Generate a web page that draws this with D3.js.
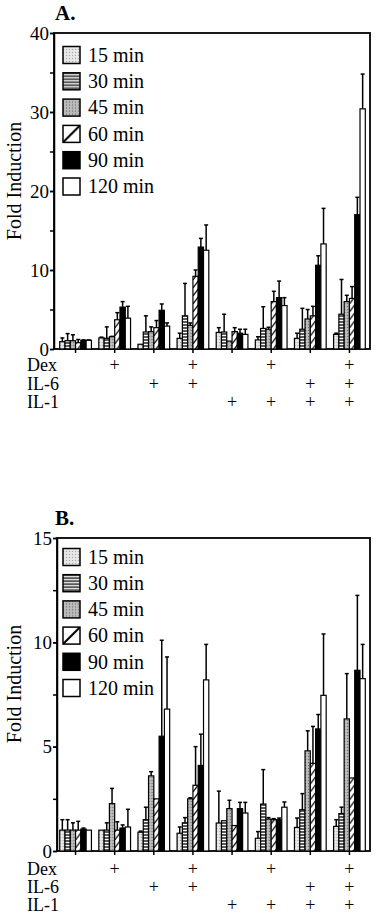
<!DOCTYPE html>
<meta charset="utf-8">
<style>
body { margin: 0; background: #fff; }
svg text { font-family: "Liberation Serif", "Times New Roman", serif; fill: #000; }
.axis text { font-size: 19px; }
.axis path, .axis line { stroke: #000; stroke-width: 1.5; }
.bar { stroke: #000; stroke-width: 1.2; }
.err { stroke: #000; stroke-width: 1.5; }
</style>
<svg class="chart" width="378" height="915"></svg>
<script src="https://d3js.org/d3.v7.min.js"></script>
<script>

// categories
var groups = ["g1", "g2", "g3", "g4", "g5", "g6", "g7", "g8"];
var series = ["15 min", "30 min", "45 min", "60 min", "90 min", "120 min"];
var dex = ["", "+", "", "+", "", "+", "", "+"];
var il6 = ["", "", "+", "+", "", "", "+", "+"];
var il1 = ["", "", "", "", "+", "+", "+", "+"];

// tick labels
var ticksA = [0, 10, 20, 30, 40];
var ticksB = [0, 5, 10, 15];

// panel A: mean fold induction, one row per series (15..120 min)
var meansA = [
  [0.93, 1.4, 0.6, 1.35, 2.1, 1.15, 1.35, 1.85],
  [1.05, 1.35, 2.15, 4.2, 2.15, 2.6, 2.5, 4.4],
  [1.05, 1.55, 2.2, 3.0, 1.0, 2.5, 3.8, 6.0],
  [0.8, 3.7, 2.7, 9.2, 2.2, 6.0, 4.2, 6.4],
  [1.1, 5.3, 4.9, 12.9, 2.0, 6.5, 10.6, 17.0],
  [1.1, 3.9, 2.9, 12.5, 1.85, 5.5, 13.3, 30.4]
];
// panel A: top of error bar
var errTopA = [
  [1.4, 1.5, 0.6, 2.0, 2.7, 1.55, 2.0, 2.0],
  [1.95, 2.8, 4.2, 8.3, 4.4, 5.35, 5.15, 8.8],
  [1.8, 1.6, 2.8, 3.3, 1.0, 2.75, 5.0, 6.8],
  [1.2, 4.6, 3.6, 10.0, 2.7, 7.3, 5.4, 7.9],
  [1.15, 6.0, 5.7, 14.0, 2.5, 8.6, 11.8, 19.2],
  [1.15, 5.4, 3.3, 15.7, 2.5, 6.5, 17.8, 34.8]
];

// panel B
var meansB = [
  [1.0, 1.0, 0.9, 0.85, 1.34, 0.61, 1.13, 1.18],
  [1.0, 1.0, 1.5, 1.35, 1.45, 2.25, 1.98, 1.79],
  [1.0, 2.27, 3.6, 2.5, 2.03, 1.53, 4.8, 6.33],
  [1.0, 1.0, 2.5, 3.15, 1.22, 1.5, 4.2, 3.5],
  [1.05, 1.1, 5.5, 4.1, 2.03, 1.5, 5.85, 8.66],
  [1.0, 1.15, 6.8, 8.2, 1.82, 2.1, 7.46, 8.26]
];
var errTopB = [
  [1.5, 1.0, 0.95, 1.15, 2.87, 0.93, 1.58, 1.5],
  [1.5, 1.35, 2.1, 1.6, 1.45, 3.9, 2.75, 2.1],
  [1.35, 3.0, 3.8, 2.55, 2.43, 1.6, 5.76, 8.5],
  [1.42, 1.4, 2.5, 5.0, 1.22, 1.55, 5.97, 3.5],
  [1.1, 1.25, 10.1, 5.6, 2.33, 1.58, 6.54, 12.25],
  [1.0, 2.0, 9.3, 9.9, 2.33, 2.35, 10.4, 9.9]
];

var svg = d3.select(".chart");

// fill patterns
var defs = svg.append("defs");

var p15 = defs.append("pattern").attr("id", "p15")
    .attr("patternUnits", "userSpaceOnUse").attr("width", 3).attr("height", 3);
p15.append("rect").attr("width", 3).attr("height", 3).attr("fill", "#e2e2e2");
p15.append("rect").attr("width", 1).attr("height", 1).attr("fill", "#a8a8a8");
p15.append("rect").attr("x", 1.5).attr("y", 1.5).attr("width", 1).attr("height", 1).attr("fill", "#fff");

var p30 = defs.append("pattern").attr("id", "p30")
    .attr("patternUnits", "userSpaceOnUse").attr("width", 6).attr("height", 3);
p30.append("rect").attr("width", 6).attr("height", 3).attr("fill", "#fff");
p30.append("line").attr("x1", 0).attr("x2", 6).attr("y1", 1).attr("y2", 1)
    .attr("stroke", "#000").attr("stroke-width", 1.3);

var p45 = defs.append("pattern").attr("id", "p45")
    .attr("patternUnits", "userSpaceOnUse").attr("width", 3).attr("height", 3);
p45.append("rect").attr("width", 3).attr("height", 3).attr("fill", "#b4b4b4");
p45.append("rect").attr("width", 1).attr("height", 1).attr("fill", "#6e6e6e");
p45.append("rect").attr("x", 1.5).attr("y", 1.5).attr("width", 1).attr("height", 1).attr("fill", "#d8d8d8");

var p60 = defs.append("pattern").attr("id", "p60")
    .attr("patternUnits", "userSpaceOnUse").attr("width", 6).attr("height", 8);
p60.append("rect").attr("width", 6).attr("height", 8).attr("fill", "#fff");
p60.append("line").attr("x1", -1).attr("y1", 9.3).attr("x2", 7).attr("y2", -1.3)
    .attr("stroke", "#000").attr("stroke-width", 1.3);

var p60big = defs.append("pattern").attr("id", "p60big")
    .attr("patternUnits", "objectBoundingBox").attr("width", 1).attr("height", 1)
    .attr("patternContentUnits", "objectBoundingBox");
p60big.append("rect").attr("width", 1).attr("height", 1).attr("fill", "#fff");
p60big.append("line").attr("x1", 0).attr("y1", 1).attr("x2", 1).attr("y2", 0)
    .attr("stroke", "#000").attr("stroke-width", 0.12);

var fills = ["url(#p15)", "url(#p30)", "url(#p45)", "url(#p60)", "#000", "#fff"];
var legendFills = ["url(#p15)", "url(#p30)", "url(#p45)", "url(#p60big)", "#000", "#fff"];

function drawPanel(opt) {
  var x0 = d3.scaleBand().domain(groups).range([56, 369]).padding(0);
  var x1 = d3.scaleBand().domain(series).range([0, x0.bandwidth()])
      .paddingInner(0).paddingOuter(0.7);
  var y = d3.scaleLinear().domain([0, opt.max]).range([opt.bottom, opt.top]);

  var g = svg.append("g");

  // frame
  g.append("rect")
      .attr("x", opt.left).attr("y", opt.top)
      .attr("width", 370 - opt.left).attr("height", opt.bottom - opt.top)
      .attr("fill", "none").attr("stroke", "#000").attr("stroke-width", 1.8);

  // panel letter
  g.append("text")
      .attr("x", 55).attr("y", opt.top - opt.letterGap)
      .style("font-size", "21px").style("font-weight", "bold")
      .text(opt.letter);

  // y axis: minor ticks then labelled ticks
  g.append("g").attr("class", "axis")
      .attr("transform", "translate(" + opt.left + ",0)")
      .call(d3.axisLeft(y).tickValues(d3.range(0, opt.max + 0.01, opt.minor))
          .tickSize(4).tickSizeOuter(0).tickFormat(""));
  g.append("g").attr("class", "axis")
      .attr("transform", "translate(" + opt.left + ",0)")
      .call(d3.axisLeft(y).tickValues(opt.ticks).tickSize(4).tickSizeOuter(0).tickPadding(1))
      .call(function (a) { a.select(".domain").remove(); });

  // x axis ticks at group centres
  g.append("g").attr("class", "axis")
      .attr("transform", "translate(0," + opt.bottom + ")")
      .call(d3.axisBottom(x0).tickSize(4).tickSizeOuter(0).tickFormat(""))
      .call(function (a) { a.select(".domain").remove(); });

  g.append("text")
      .attr("transform", "translate(21," + opt.labelY + ") rotate(-90)")
      .attr("text-anchor", "middle")
      .style("font-size", "20px")
      .text("Fold Induction");

  // bars
  var rows = [];
  groups.forEach(function (gr, gi) {
    series.forEach(function (s, si) {
      rows.push({ group: gr, series: s, si: si, v: opt.means[si][gi], e: opt.errTop[si][gi] });
    });
  });

  var bar = g.selectAll(".b").data(rows).enter().append("g")
      .attr("transform", function (d) { return "translate(" + (x0(d.group) + x1(d.series)) + ",0)"; });

  bar.filter(function (d) { return d.e > d.v; }).append("line")
      .attr("class", "err")
      .attr("x1", x1.bandwidth() / 2).attr("x2", x1.bandwidth() / 2)
      .attr("y1", function (d) { return y(d.v); })
      .attr("y2", function (d) { return y(d.e); });
  bar.filter(function (d) { return d.e > d.v; }).append("line")
      .attr("class", "err")
      .attr("x1", x1.bandwidth() / 2 - 2).attr("x2", x1.bandwidth() / 2 + 2)
      .attr("y1", function (d) { return y(d.e); })
      .attr("y2", function (d) { return y(d.e); });

  bar.append("rect")
      .attr("class", "bar")
      .attr("y", function (d) { return y(d.v); })
      .attr("height", function (d) { return y(0) - y(d.v); })
      .attr("width", x1.bandwidth())
      .attr("fill", function (d) { return fills[d.si]; });

  // legend
  var leg = g.selectAll(".leg").data(series).enter().append("g")
      .attr("transform", function (d, i) { return "translate(63," + (opt.legendY + i * opt.legendStep) + ")"; });
  leg.append("rect")
      .attr("x", 0).attr("y", -8.5).attr("width", 17).attr("height", 17)
      .attr("fill", function (d, i) { return legendFills[i]; })
      .attr("stroke", "#000").attr("stroke-width", 1.5);
  leg.append("text")
      .attr("x", 25).attr("dy", "0.34em")
      .style("font-size", "20px")
      .text(function (d) { return d; });

  // treatment rows
  var conds = [["Dex", dex], ["IL-6", il6], ["IL-1", il1]];
  conds.forEach(function (c, ci) {
    var yy = opt.condY[ci];
    g.append("text").attr("x", 27).attr("y", yy).style("font-size", "18px").text(c[0]);
    g.selectAll(".plus" + ci).data(c[1]).enter().append("text")
        .attr("x", function (d, i) { return x0(groups[i]) + x0.bandwidth() / 2; })
        .attr("y", yy)
        .attr("text-anchor", "middle")
        .style("font-size", "18px")
        .text(function (d) { return d; });
  });
}

drawPanel({
  letter: "A.", letterGap: 13, left: 54, top: 33, bottom: 349, max: 40, minor: 5,
  ticks: ticksA, means: meansA, errTop: errTopA, labelY: 181,
  legendY: 55, legendStep: 26.3, condY: [371, 390, 408]
});

drawPanel({
  letter: "B.", letterGap: 13, left: 57, top: 538, bottom: 851, max: 15, minor: 2.5,
  ticks: ticksB, means: meansB, errTop: errTopB, labelY: 684,
  legendY: 557, legendStep: 26.2, condY: [875, 893, 911]
});

</script>
